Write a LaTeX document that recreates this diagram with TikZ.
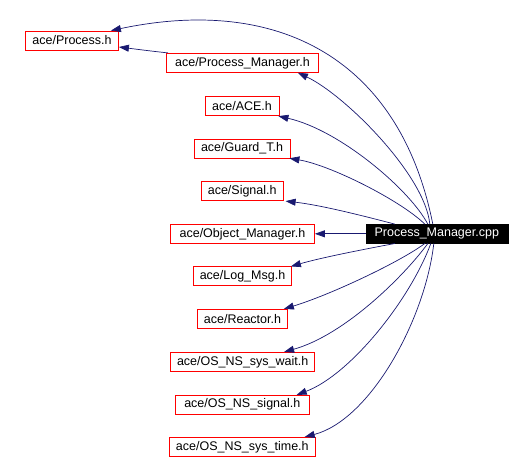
\documentclass[tikz,border=0pt]{standalone}
\usepackage{fontspec}
\setmainfont{Liberation Sans}
\usetikzlibrary{arrows.meta}
\definecolor{edgeblue}{HTML}{191970}
\begin{document}
\begin{tikzpicture}[x=1pt,y=-1pt,
  hdr/.style={draw=red, line width=0.8pt, fill=white, inner sep=0pt, minimum height=19pt,
    font=\fontsize{12.5}{14}\selectfont, text=black},
  cur/.style={draw=black, fill=black, inner sep=0pt, minimum height=19pt,
    font=\fontsize{12.5}{14}\selectfont, text=white},
  dep/.style={draw=edgeblue, line width=0.7pt, -{Triangle[length=10pt,width=7pt]}}]
\useasboundingbox (0,0) rectangle (532,459);
\node[cur, minimum width=142pt] (cpp) at (436.8,233.8) {Process\_Manager.cpp};
\node[hdr, minimum width=93pt]  (proc) at (72,40.5) {ace/Process.h};
\node[hdr, minimum width=152pt] (pm) at (242.5,62.8) {ace/Process\_Manager.h};
\node[hdr, minimum width=74pt]  (ace) at (242,106.2) {ace/ACE.h};
\node[hdr, minimum width=96pt]  (guard) at (242,148.4) {ace/Guard\_T.h};
\node[hdr, minimum width=82pt]  (sig) at (242.2,191.2) {ace/Signal.h};
\node[hdr, minimum width=144pt] (om) at (242.5,233.8) {ace/Object\_Manager.h};
\node[hdr, minimum width=98pt]  (log) at (242.5,276.3) {ace/Log\_Msg.h};
\node[hdr, minimum width=90pt]  (reac) at (242.5,318.8) {ace/Reactor.h};
\node[hdr, minimum width=144pt] (wait) at (242.7,361.8) {ace/OS\_NS\_sys\_wait.h};
\node[hdr, minimum width=134pt] (osig) at (242.3,404.7) {ace/OS\_NS\_signal.h};
\node[hdr, minimum width=146pt] (time) at (242.3,446.8) {ace/OS\_NS\_sys\_time.h};

\draw[dep] ([xshift=-4pt]cpp.north) .. controls (400,60) and (280,-5) .. ([xshift=-8pt]proc.north east);
\draw[dep] ([xshift=-7pt]cpp.north) .. controls (425,175) and (345,95) .. ([xshift=-21pt]pm.south east);
\draw[dep] ([xshift=2pt]pm.north west) .. controls (150,51) and (135,49) .. ([yshift=-6.5pt]proc.east);
\draw[dep] ([xshift=-9pt]cpp.north) .. controls (410,190) and (340,130) .. ([xshift=-1pt]ace.south east);
\draw[dep] ([xshift=-12pt]cpp.north) .. controls (400,200) and (330,165) .. ([xshift=-1pt]guard.south east);
\draw[dep] ([xshift=-42pt]cpp.north) .. controls (360,215) and (320,205) .. ([xshift=2pt]sig.south east);
\draw[dep] (cpp.west) -- (om.east);
\draw[dep] ([xshift=-42pt]cpp.south) .. controls (360,250) and (320,258) .. ([xshift=-1pt]log.north east);
\draw[dep] ([xshift=-12pt]cpp.south) .. controls (400,262) and (330,295) .. ([xshift=-4pt]reac.north east);
\draw[dep] ([xshift=-9pt]cpp.south) .. controls (405,275) and (345,335) .. ([xshift=-31pt]wait.north east);
\draw[dep] ([xshift=-6pt]cpp.south) .. controls (410,300) and (350,375) .. ([xshift=-13pt]osig.north east);
\draw[dep] ([xshift=-3pt]cpp.south) .. controls (425,320) and (370,420) .. ([xshift=-11pt]time.north east);
\end{tikzpicture}
\end{document}
